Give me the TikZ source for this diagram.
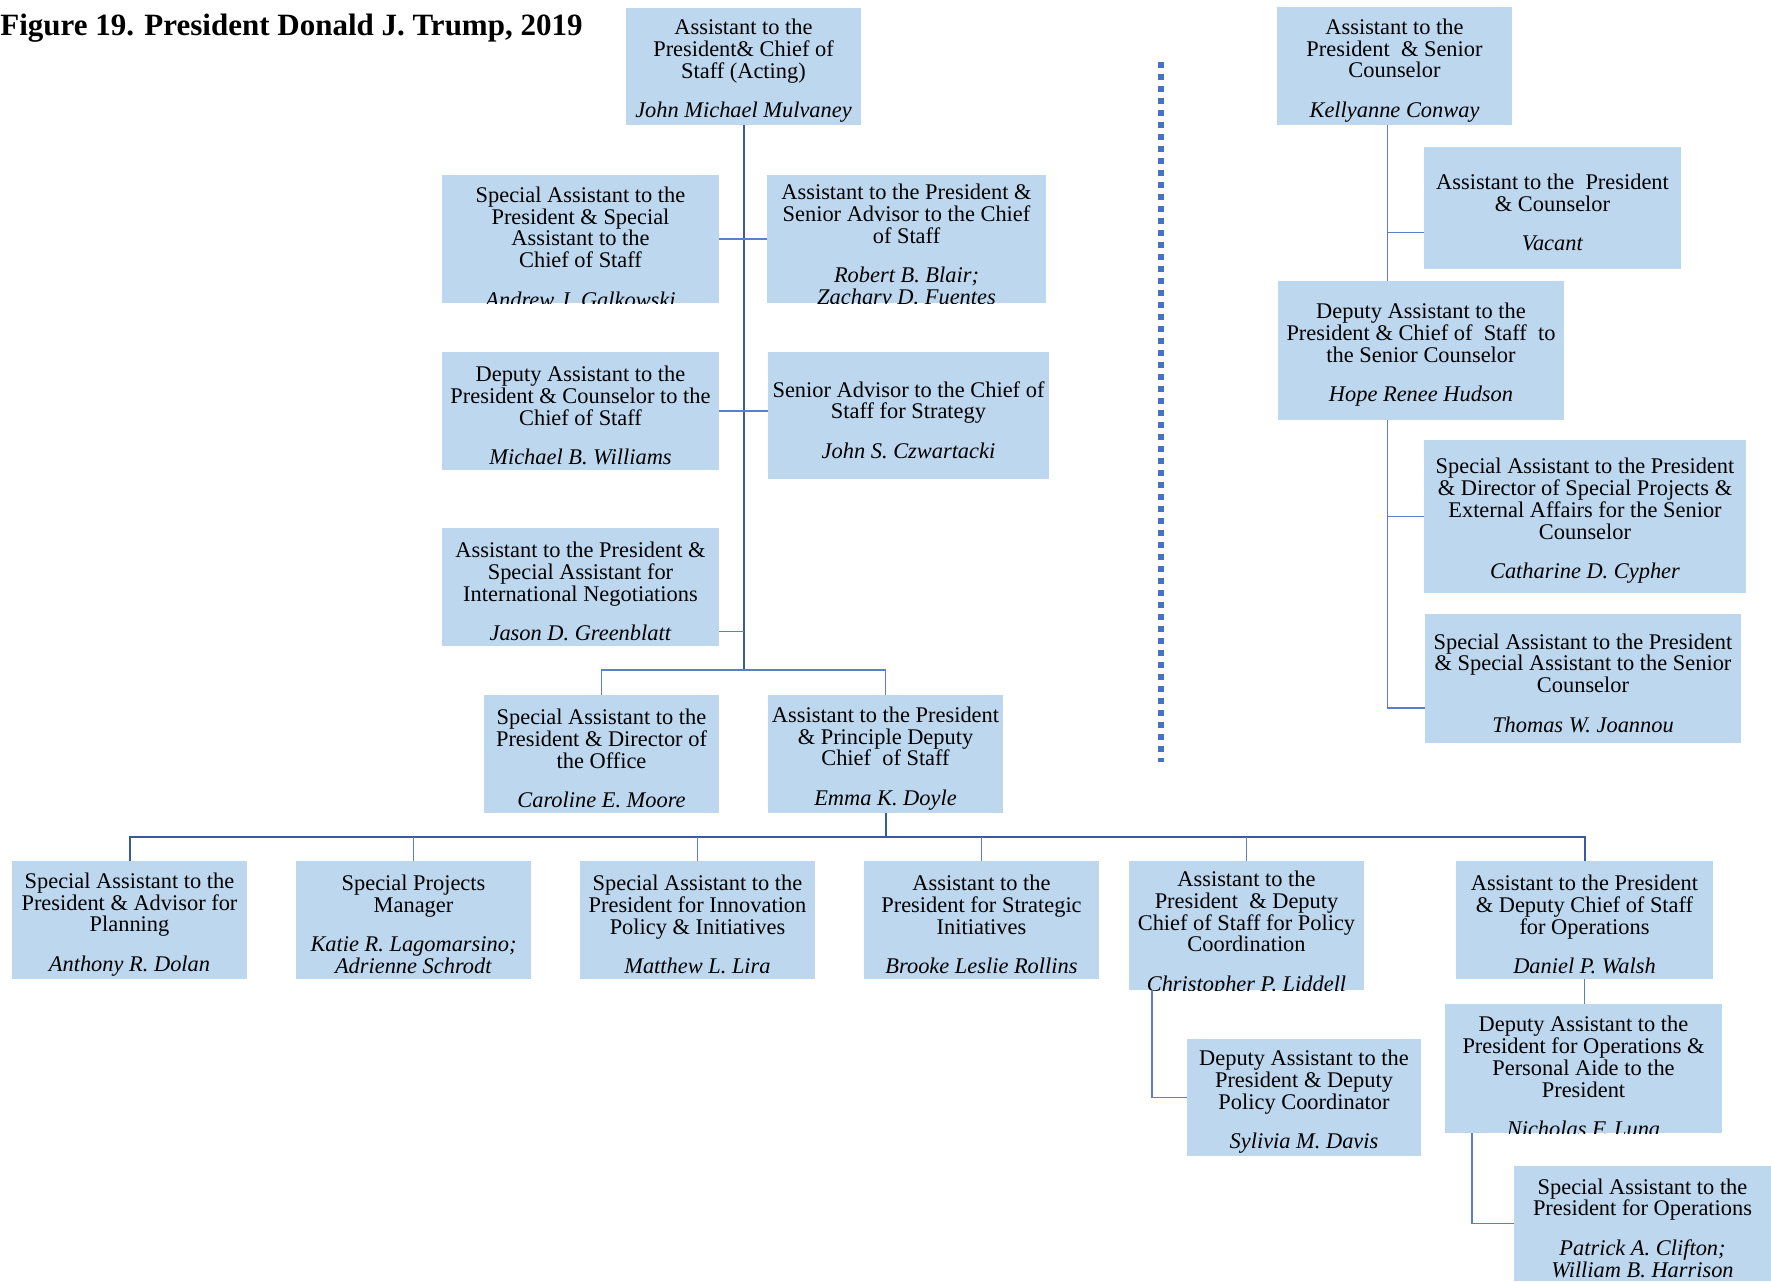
\documentclass[tikz,border=0pt]{standalone}
\usepackage{fontspec}
\setmainfont{Liberation Serif}
\usepackage{tikz}
\definecolor{boxblue}{RGB}{189,215,238}
\definecolor{linedark}{RGB}{56,89,163}
\definecolor{linelight}{RGB}{92,128,200}
\definecolor{dotblue}{RGB}{68,114,196}
\newcommand{\boxfont}{\fontsize{11.2}{10.9}\selectfont}
\newcommand{\namegap}{\\[8.8pt]}

\begin{document}
\begin{tikzpicture}[x=0.5pt,y=-0.5pt]
 \tikzstyle{post} = [fill=boxblue,inner sep=0pt]
 \tikzstyle{spine} = [draw=linedark,line width=1pt]
 \tikzstyle{tie} = [draw=linelight,line width=0.7pt]
 \tikzstyle{divider} = [draw=dotblue,line width=3pt,dash pattern=on 3pt off 3pt]
 % text is set inside the box and cut off at its edges
 \tikzset{words/.style={path picture={\node[align=center,font=\boxfont,yshift=-2.25pt] at (path picture bounding box.center) {#1};}}}
 \tikzset{cliptext/.style={path picture={\node[align=center,font=\boxfont,yshift=-4pt] at (path picture bounding box.center) {#1};}}}

  \useasboundingbox (0,0) rectangle (1771,1281);

  \node[anchor=base west,inner sep=0pt,font=\fontsize{15.5}{18}\selectfont\bfseries] (title) at (0,35) {Figure 19. President Donald J. Trump, 2019};

  % Chief of staff and his office
  \node[post,minimum width=117.5pt,minimum height=58.5pt,words={Assistant to the\\President\& Chief of\\Staff (Acting)\namegap\textit{John Michael Mulvaney}}] (cos) at (743.5,66.5) {};
  \node[post,minimum width=138.5pt,minimum height=64pt,cliptext={Special Assistant to the\\President \& Special\\Assistant to the\\Chief of Staff\namegap\textit{Andrew J. Galkowski}}] (galk) at (580.5,239) {};
  \node[post,minimum width=139.5pt,minimum height=64pt,cliptext={Assistant to the President \&\\Senior Advisor to the Chief\\of Staff\namegap\textit{Robert B. Blair;}\\\textit{Zachary D. Fuentes}}] (blair) at (906.5,239) {};
  \node[post,minimum width=138.5pt,minimum height=59pt,words={Deputy Assistant to the\\President \& Counselor to the\\Chief of Staff\namegap\textit{Michael B. Williams}}] (will) at (580.5,411) {};
  \node[post,minimum width=140.5pt,minimum height=63.5pt,words={Senior Advisor to the Chief of\\Staff for Strategy\namegap\textit{John S. Czwartacki}}] (czw) at (908.5,415.5) {};
  \node[post,minimum width=138.5pt,minimum height=59pt,words={Assistant to the President \&\\Special Assistant for\\International Negotiations\namegap\textit{Jason D. Greenblatt}}] (green) at (580.5,587) {};
  \node[post,minimum width=117.5pt,minimum height=59pt,words={Special Assistant to the\\President \& Director of\\the Office\namegap\textit{Caroline E. Moore}}] (moore) at (601.5,754) {};
  \node[post,minimum width=117.5pt,minimum height=59pt,words={Assistant to the President\\\& Principle Deputy\\Chief\ \ of Staff\namegap\textit{Emma K. Doyle}}] (doyle) at (885.5,754) {};

  % Under the principal deputy
  \node[post,minimum width=117.5pt,minimum height=59pt,words={Special Assistant to the\\President \& Advisor for\\Planning\namegap\textit{Anthony R. Dolan}}] (dolan) at (129.5,920) {};
  \node[post,minimum width=117.5pt,minimum height=59pt,words={Special Projects\\Manager\namegap\textit{Katie R. Lagomarsino;}\\\textit{Adrienne Schrodt}}] (lago) at (413.5,920) {};
  \node[post,minimum width=117.5pt,minimum height=59pt,words={Special Assistant to the\\President for Innovation\\Policy \& Initiatives\namegap\textit{Matthew L. Lira}}] (lira) at (697.5,920) {};
  \node[post,minimum width=117.5pt,minimum height=59pt,words={Assistant to the\\President for Strategic\\Initiatives\namegap\textit{Brooke Leslie Rollins}}] (rollins) at (981.5,920) {};
  \node[post,minimum width=117.5pt,minimum height=64.5pt,cliptext={Assistant to the\\President\ \ \& Deputy\\Chief of Staff for Policy\\Coordination\namegap\textit{Christopher P. Liddell}}] (liddell) at (1246.5,925.5) {};
  \node[post,minimum width=128.5pt,minimum height=59pt,words={Assistant to the President\\\& Deputy Chief of Staff\\for Operations\namegap\textit{Daniel P. Walsh}}] (walsh) at (1584.5,920) {};
  \node[post,minimum width=117pt,minimum height=58.5pt,words={Deputy Assistant to the\\President \& Deputy\\Policy Coordinator\namegap\textit{Sylivia M. Davis}}] (davis) at (1304,1097.5) {};
  \node[post,minimum width=138.5pt,minimum height=64.5pt,cliptext={Deputy Assistant to the\\President for Operations \&\\Personal Aide to the\\President\namegap\textit{Nicholas F. Luna}}] (luna) at (1583.5,1068.5) {};
  \node[post,minimum width=128.5pt,minimum height=57.5pt,words={Special Assistant to the\\President for Operations\namegap\textit{Patrick A. Clifton;}\\\textit{William B. Harrison}}] (clifton) at (1642.5,1223.5) {};

  % Senior counselor
  \node[post,minimum width=117.5pt,minimum height=59pt,words={Assistant to the\\President\ \ \& Senior\\Counselor\namegap\textit{Kellyanne Conway}}] (conway) at (1394.5,66) {};
  \node[post,minimum width=128.5pt,minimum height=61pt,words={Assistant to the\ \ President\\\& Counselor\namegap\textit{Vacant}}] (vacant) at (1552.5,208) {};
  \node[post,minimum width=143pt,minimum height=69.5pt,words={Deputy Assistant to the\\President \& Chief of\ \ Staff\ \ to\\the Senior Counselor\namegap\textit{Hope Renee Hudson}}] (hudson) at (1421,350.5) {};
  \node[post,minimum width=161pt,minimum height=76.5pt,words={Special Assistant to the President\\\& Director of Special Projects \&\\External Affairs for the Senior\\Counselor\namegap\textit{Catharine D. Cypher}}] (cypher) at (1585,516.5) {};
  \node[post,minimum width=158pt,minimum height=64.5pt,words={Special Assistant to the President\\\& Special Assistant to the Senior\\Counselor\namegap\textit{Thomas W. Joannou}}] (joannou) at (1583,678.5) {};

  % Branch points
  \coordinate (split1) at (743.5,670);
  \coordinate (split2) at (885.5,837);
  \coordinate (gtie) at ([yshift=7.5pt]green.south east);
  \coordinate (rspine) at (1387.5,125);
  \coordinate (vtie) at ([yshift=-12.35pt]vacant.west);
  \coordinate (jtie) at ([yshift=-14.75pt]joannou.west);
  \coordinate (divtop) at (1161,62);
  \coordinate (divbot) at (1161,762);

  % Lines
  \draw[spine] (cos.south) -- (split1);
  \draw[tie] (galk.east) -- (blair.west);
  \draw[tie] (will.east) -- (will.east -| czw.west);
  \draw[tie] (gtie) -- (gtie -| split1);
  \draw[tie] (moore.north) |- (split1) -| (doyle.north);
  \draw[spine] (doyle.south) -- (split2);
  \draw[spine] (split2) -| (dolan.north);
  \draw[tie] (split2 -| lago.north) -- (lago.north);
  \draw[tie] (split2 -| lira.north) -- (lira.north);
  \draw[spine] (split2) -| (walsh.north);
  \draw[tie] (split2 -| rollins.north) -- (rollins.north);
  \draw[tie] (split2 -| liddell.north) -- (liddell.north);
  \draw[tie] ([xshift=11.75pt]liddell.south west) |- (davis.west);
  \draw[tie] (walsh.south) -- (walsh.south |- luna.north);
  \draw[tie] ([xshift=13.75pt]luna.south west) |- (clifton.west);

  \draw[tie] (conway.south -| rspine) -- (hudson.north -| rspine);
  \draw[tie] (vtie) -- (vtie -| rspine);
  \draw[tie] (hudson.south -| rspine) |- (jtie);
  \draw[tie] (cypher.west) -- (cypher.west -| rspine);

  \draw[divider] (divtop) -- (divbot);

\end{tikzpicture}
\end{document}
